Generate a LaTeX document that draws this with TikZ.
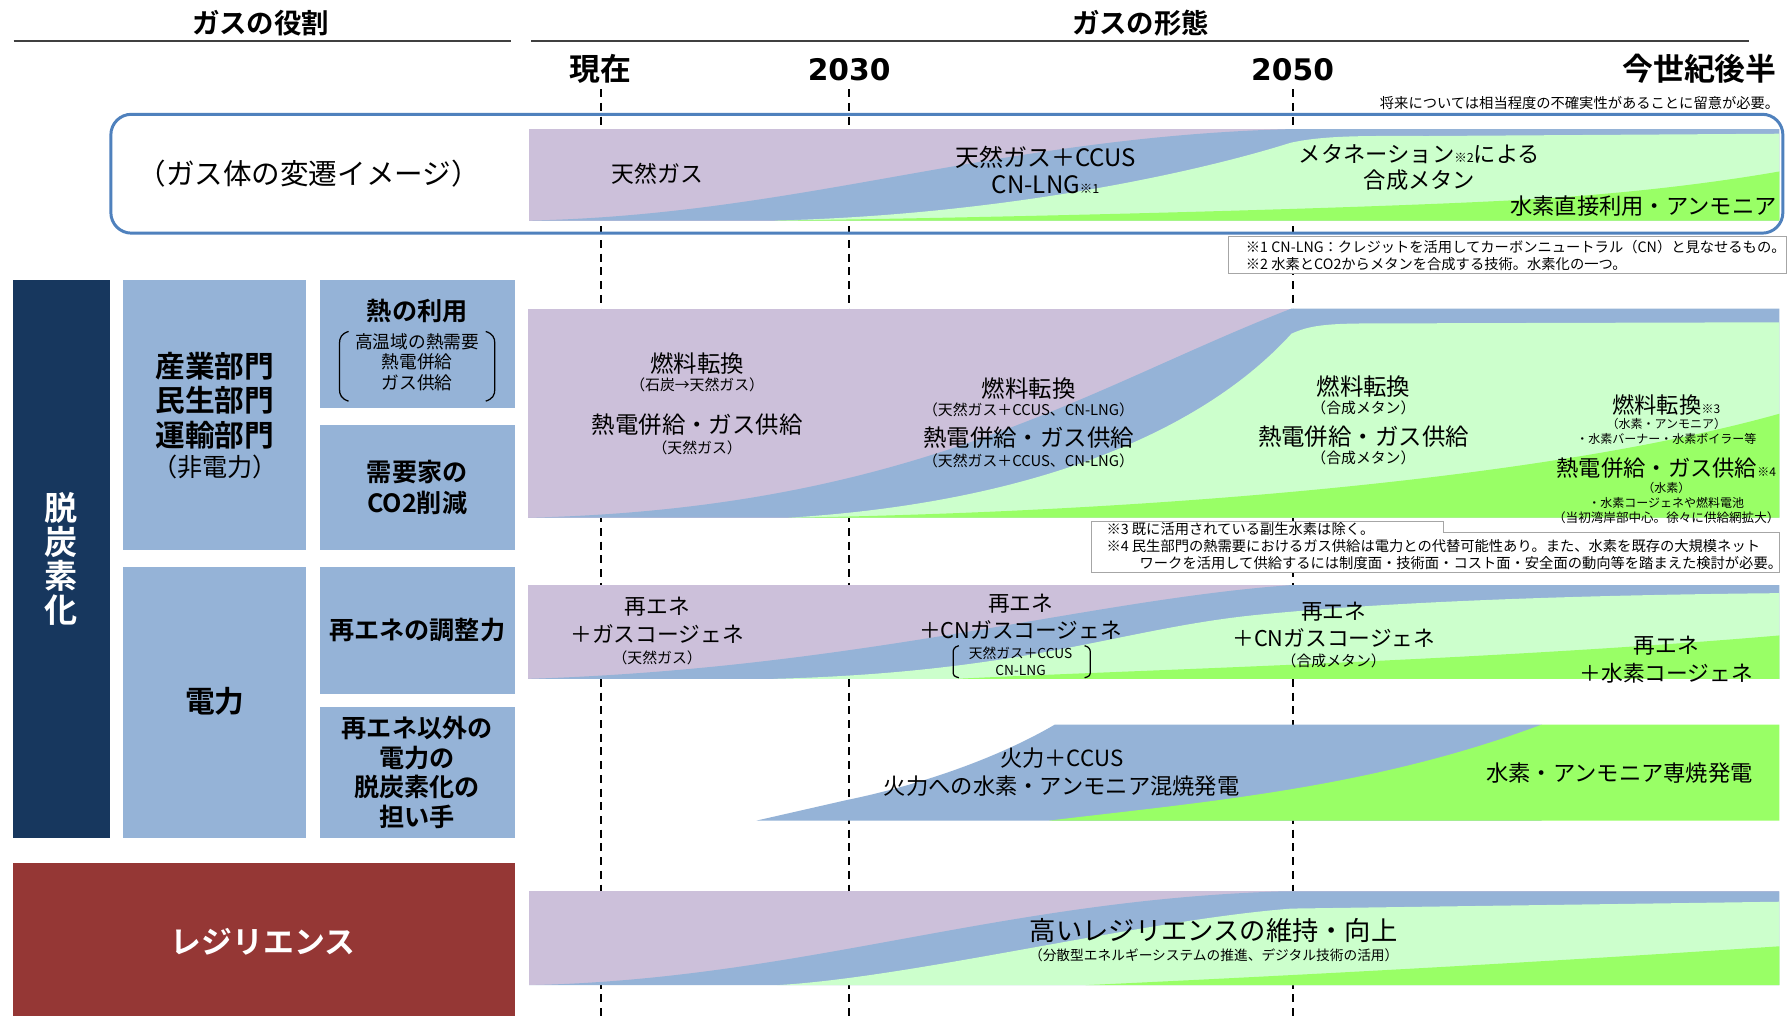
\documentclass[tikz,border=0pt]{standalone}
\usepackage{fontspec}
\setmainfont{Noto Sans CJK JP}[BoldFont={* Bold}]
\newfontfamily\yrfont{DejaVu Sans}
\newcommand{\fsz}[1]{\fontsize{#1}{#1}\selectfont}
\newcommand{\fszl}[2]{\fontsize{#1}{#2}\selectfont}
\definecolor{cPur}{HTML}{CCC0DA}
\definecolor{cBlu}{HTML}{95B3D7}
\definecolor{cLg}{HTML}{CCFFCC}
\definecolor{cBg}{HTML}{99FF66}
\definecolor{cNavy}{HTML}{17375E}
\definecolor{cRed}{HTML}{953735}
\definecolor{cFrame}{HTML}{4F81BD}
\tikzset{
 t/.style={inner sep=0pt, anchor=center},
 hd/.style={t, font=\bfseries\fsz{24}},
 yr/.style={t, font=\bfseries\fsz{27}},
 yrn/.style={t, font=\yrfont\bfseries\fsz{26}},
 mt/.style={t, font=\fsz{20.5}},
 st/.style={t, font=\fsz{13}},
 xs/.style={t, font=\fsz{10.5}},
 nt/.style={inner sep=0pt, anchor=west, font=\fsz{12.5}},
 bt/.style={t, font=\bfseries\fsz{22}},
 bbt/.style={t, font=\bfseries\fsz{26}},
 yline/.style={line width=1.6pt, dash pattern=on 7pt off 5pt},
 hline/.style={line width=1.5pt, draw=black!75},
 notebox/.style={fill=white, draw=black!35, line width=0.9pt},
 brk/.style={line width=1.1pt},
}
\begin{document}
\begin{tikzpicture}[x=1pt,y=-1pt]
\useasboundingbox (0,0) rectangle (1568,889);
\fill[white] (0,0) rectangle (1568,889);

% year dashed lines
\coordinate (la1) at (526,78); \coordinate (la2) at (526,889);
\coordinate (lb1) at (743,78); \coordinate (lb2) at (743,889);
\coordinate (lc1) at (1131,78); \coordinate (lc2) at (1131,889);
\draw[yline] (la1) -- (la2);
\draw[yline] (lb1) -- (lb2);
\draw[yline] (lc1) -- (lc2);

% headers
\node[hd] (roleH) at (228,20) {ガスの役割};
\draw[hline] (12,36) -- (447,36);
\node[hd] (formH) at (998,20) {ガスの形態};
\draw[hline] (465,36) -- (1530,36);
\node[yr] (y0) at (525,60) {現在};
\node[yrn] (y1) at (743,61) {2030};
\node[yrn] (y2) at (1131,61) {2050};
\node[yr] (y3) at (1487,60) {今世紀後半};
\node[inner sep=0pt, anchor=east, font=\fsz{12.5}] (warn) at (1557,90) {将来については相当程度の不確実性があることに留意が必要。};

% top frame
\draw[cFrame, line width=2.6pt, rounded corners=18pt] (97,100) rectangle (1560,204);
\node[t, font=\fsz{25}] (imgT) at (270,152) {（ガス体の変遷イメージ）};

% top band
\fill[cPur] (463,113) rectangle (1557,193);
\fill[cBlu] (463,193) .. controls (700,188) and (870,120) .. (1128,113) -- (1557,113) -- (1557,193) -- cycle;
\fill[cLg] (678,193) .. controls (880,188) and (1050,150) .. (1129,125) .. controls (1160,118) and (1200,119) .. (1250,119) -- (1557,117) -- (1557,193) -- cycle;
\fill[cBg] (678,193) .. controls (900,190) and (1200,182) .. (1328,175) .. controls (1420,170) and (1500,160) .. (1557,150) -- (1557,193) -- cycle;
\node[t, font=\fsz{20}] (g1) at (575,152) {天然ガス};
\node[t, font=\fsz{21}] (g2a) at (915,138) {天然ガス＋CCUS};
\node[t, font=\fsz{21}] (g2b) at (915,162) {CN-LNG{\fsz{11}※1}};
\node[t, font=\fsz{19.5}] (g3a) at (1242,135) {メタネーション{\fsz{11}※2}による};
\node[t, font=\fsz{19.5}] (g3b) at (1242,158) {合成メタン};
\node[t, font=\fsz{19.5}] (g4) at (1438,180) {水素直接利用・アンモニア};

% note box 1
\draw[notebox] (1075,207) rectangle (1563,239);
\node[nt] (n1) at (1090,216) {※1 CN-LNG：クレジットを活用してカーボンニュートラル（CN）と見なせるもの。};
\node[nt] (n2) at (1090,231) {※2 水素とCO2からメタンを合成する技術。水素化の一つ。};

% heat band
\fill[cPur] (462,270) rectangle (1557,453);
\fill[cBlu] (462,453) .. controls (800,445) and (950,340) .. (1130,270) -- (1557,270) -- (1557,453) -- cycle;
\fill[cLg] (690,453) .. controls (900,440) and (1050,380) .. (1130,292) .. controls (1145,285) and (1160,283) .. (1200,283) -- (1557,282) -- (1557,453) -- cycle;
\fill[cBg] (690,453) .. controls (1000,448) and (1350,420) .. (1557,362) -- (1557,453) -- cycle;
\node[mt] (h1a) at (610,318) {燃料転換};
\node[st] (h1b) at (610,337) {（石炭→天然ガス）};
\node[mt] (h1c) at (610,372) {熱電併給・ガス供給};
\node[st] (h1d) at (610,392) {（天然ガス）};
\node[mt] (h2a) at (900,340) {燃料転換};
\node[st] (h2b) at (900,359) {（天然ガス＋CCUS、CN-LNG）};
\node[mt] (h2c) at (900,383) {熱電併給・ガス供給};
\node[st] (h2d) at (900,403) {（天然ガス＋CCUS、CN-LNG）};
\node[mt] (h3a) at (1193,338) {燃料転換};
\node[st] (h3b) at (1193,357) {（合成メタン）};
\node[mt] (h3c) at (1193,382) {熱電併給・ガス供給};
\node[st] (h3d) at (1193,401) {（合成メタン）};
\node[t, font=\fsz{19.5}] (h4a) at (1458,354) {燃料転換{\fsz{10.5}※3}};
\node[xs] (h4b) at (1458,371) {（水素・アンモニア）};
\node[xs] (h4c) at (1458,384) {・水素バーナー・水素ボイラー等};
\node[t, font=\fsz{19.5}] (h4d) at (1458,410) {熱電併給・ガス供給{\fsz{10.5}※4}};
\node[xs] (h4e) at (1458,427) {（水素）};
\node[xs] (h4f) at (1458,440) {・水素コージェネや燃料電池};
\node[t, font=\fsz{11}] (h4g) at (1458,453) {（当初湾岸部中心。徐々に供給網拡大）};

% note box 2
\draw[notebox] (955,456) -- (1263,456) -- (1263,466) -- (1557,466) -- (1557,501) -- (955,501) -- cycle;
\node[nt] (n3) at (968,463) {※3 既に活用されている副生水素は除く。};
\node[nt] (n4) at (968,478) {※4 民生部門の熱需要におけるガス供給は電力との代替可能性あり。また、水素を既存の大規模ネット};
\node[nt] (n5) at (997,493) {ワークを活用して供給するには制度面・技術面・コスト面・安全面の動向等を踏まえた検討が必要。};

% renewables band
\fill[cPur] (462,512) rectangle (1557,594);
\fill[cBlu] (462,594) .. controls (750,585) and (950,525) .. (1129,512) -- (1557,512) -- (1557,594) -- cycle;
\fill[cLg] (677,594) .. controls (900,588) and (980,550) .. (1100,538) .. controls (1200,528) and (1350,521) .. (1557,519) -- (1557,594) -- cycle;
\fill[cBg] (836,594) .. controls (1000,586) and (1300,578) .. (1557,556) -- (1557,594) -- cycle;
\node[t, font=\fsz{19}] (r1a) at (575,531) {再エネ};
\node[t, font=\fsz{19}] (r1b) at (575,555) {＋ガスコージェネ};
\node[st] (r1c) at (575,576) {（天然ガス）};
\node[t, font=\fsz{19}] (r2a) at (893,528) {再エネ};
\node[t, font=\fsz{19}] (r2b) at (893,551) {＋CNガスコージェネ};
\node[t, font=\fsz{12}] (r2c) at (893,572) {天然ガス＋CCUS};
\node[t, font=\fsz{12}] (r2d) at (893,587) {CN-LNG};
\draw[brk] (839,565) .. controls (835,566) and (834,568) .. (834,571) -- (834,588) .. controls (834,591) and (835,592) .. (839,593);
\draw[brk] (949,565) .. controls (953,566) and (954,568) .. (954,571) -- (954,588) .. controls (954,591) and (953,592) .. (949,593);
\node[t, font=\fsz{19}] (r3a) at (1167,535) {再エネ};
\node[t, font=\fsz{19}] (r3b) at (1167,558) {＋CNガスコージェネ};
\node[st] (r3c) at (1167,578) {（合成メタン）};
\node[t, font=\fsz{19}] (r4a) at (1458,565) {再エネ};
\node[t, font=\fsz{19}] (r4b) at (1458,589) {＋水素コージェネ};

% power band
\fill[cBlu] (662,718) -- (741,700) .. controls (800,688) and (870,665) .. (923,634) -- (1349,634) -- (1349,718) -- cycle;
\fill[cBg] (918,718) .. controls (1050,702) and (1200,690) .. (1349,634) -- (1557,634) -- (1557,718) -- cycle;
\node[t, font=\fsz{19.5}] (p1) at (929,663) {火力＋CCUS};
\node[t, font=\fsz{19.5}] (p2) at (929,688) {火力への水素・アンモニア混焼発電};
\node[t, font=\fsz{19.5}] (p3) at (1417,676) {水素・アンモニア専焼発電};

% resilience band
\fill[cPur] (463,780) rectangle (1557,862);
\fill[cBlu] (463,862) .. controls (700,857) and (870,788) .. (1120,780) -- (1557,780) -- (1557,862) -- cycle;
\fill[cLg] (680,862) .. controls (800,855) and (1000,805) .. (1130,795) -- (1557,789) -- (1557,862) -- cycle;
\fill[cBg] (950,862) .. controls (1100,855) and (1300,845) .. (1557,828) -- (1557,862) -- cycle;
\node[t, font=\fsz{23}] (z1) at (1062,814) {高いレジリエンスの維持・向上};
\node[t, font=\fsz{12}] (z2) at (1062,836) {（分散型エネルギーシステムの推進、デジタル技術の活用）};

% left column
\fill[cNavy] (11,245) rectangle (96,733);
\node[t, text=white, font=\bfseries\fszl{29}{30}, align=center] (dcz) at (53,489) {脱\\炭\\素\\化};
\fill[cBlu] (108,245) rectangle (268,481);
\node[bbt] (s1) at (188,320) {産業部門};
\node[bbt] (s2) at (188,350) {民生部門};
\node[bbt] (s3) at (188,381) {運輸部門};
\node[t, font=\fsz{22}] (s4) at (188,409) {（非電力）};
\fill[cBlu] (280,245) rectangle (451,357);
\node[bt] (hu) at (365,272) {熱の利用};
\node[t, font=\fsz{15.5}] (hu1) at (365,299) {高温域の熱需要};
\node[t, font=\fsz{15.5}] (hu2) at (365,317) {熱電併給};
\node[t, font=\fsz{15.5}] (hu3) at (365,335) {ガス供給};
\draw[brk] (305,290) .. controls (299,292) and (297,295) .. (297,301) -- (297,340) .. controls (297,346) and (299,349) .. (305,351);
\draw[brk] (425,290) .. controls (431,292) and (433,295) .. (433,301) -- (433,340) .. controls (433,346) and (431,349) .. (425,351);
\fill[cBlu] (280,372) rectangle (451,481);
\node[bt] (cu1) at (365,413) {需要家の};
\node[bt] (cu2) at (365,440) {CO2削減};
\fill[cBlu] (108,496) rectangle (268,733);
\node[bbt] (pw) at (188,614) {電力};
\fill[cBlu] (280,496) rectangle (451,607);
\node[bt] (ad) at (365,551) {再エネの調整力};
\fill[cBlu] (280,619) rectangle (451,733);
\node[bt] (o1) at (365,637) {再エネ以外の};
\node[bt] (o2) at (365,663) {電力の};
\node[bt] (o3) at (365,689) {脱炭素化の};
\node[bt] (o4) at (365,715) {担い手};
\fill[cRed] (11,755) rectangle (451,889);
\node[t, text=white, font=\bfseries\fsz{27}] (res) at (230,824) {レジリエンス};
\end{tikzpicture}
\end{document}
